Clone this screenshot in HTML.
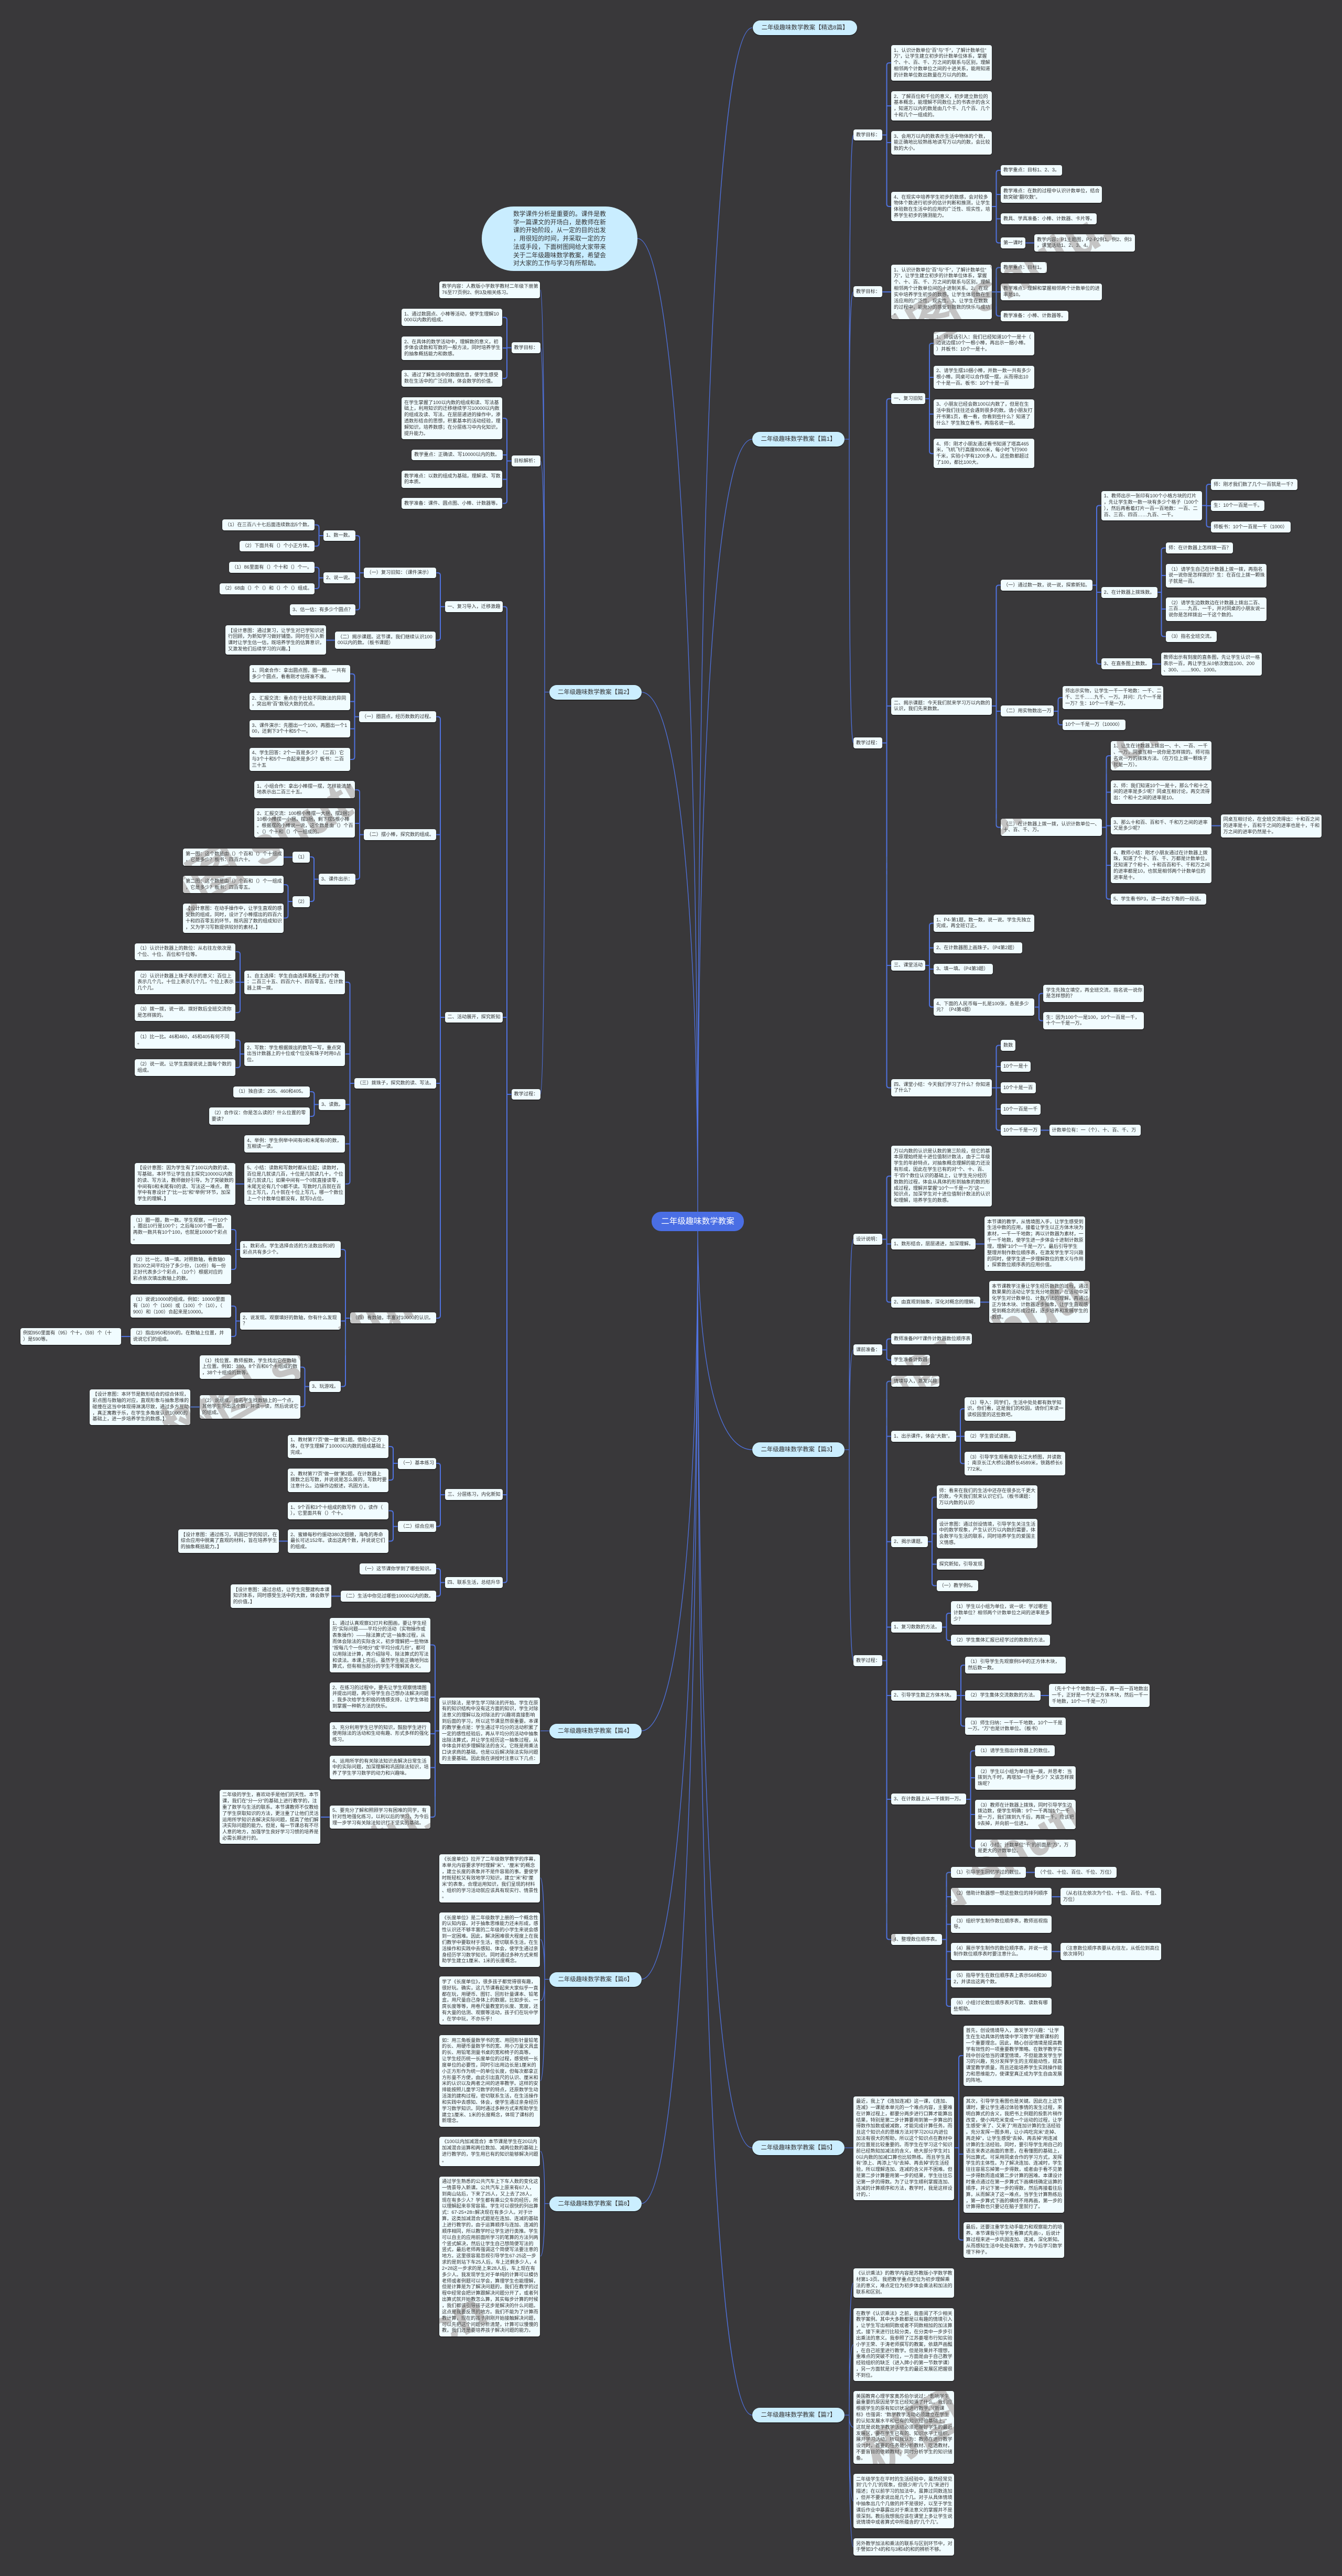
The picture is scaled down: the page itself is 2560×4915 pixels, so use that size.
<!DOCTYPE html>
<html lang="zh"><head><meta charset="utf-8"><title>二年级趣味数学教案</title>
<style>
html,body{margin:0;padding:0;background:#39383a}
#m{position:relative;width:2560px;height:4915px;overflow:hidden;background:#39383a;font-family:"Liberation Sans","Noto Sans CJK SC",sans-serif}
svg{position:absolute;left:0;top:0}
p{position:absolute;margin:0;width:192px;box-sizing:border-box;padding:4.5px 5px;background:#f1fcff;border-radius:4px;box-shadow:0 0 1px #111,0 1px 1px #111;color:#333;font-size:9.2px;line-height:11.85px;white-space:nowrap}
p.t{width:176px;height:28px;padding:0;line-height:28px;text-align:center;font-size:11.4px;background:#cbeeff;border-radius:14px}
p.r{left:1243px;top:2312px;width:176px;height:37px;padding:0;line-height:37px;text-align:center;font-size:15.5px;color:#fff;background:#4a6ee4;border-radius:18px;box-shadow:none}
p.i{left:919px;top:394px;width:297px;height:123px;padding:7px 60px;font-size:11.8px;line-height:15.7px;background:#c9edff;border-radius:61px;box-shadow:none}
.w{position:absolute;font-size:100px;font-weight:bold;line-height:120px;color:#c4c4c4;mix-blend-mode:darken;white-space:nowrap;transform:translate(-50%,-50%) rotate(-30deg)}
</style></head><body><div id="m">
<svg width="2560" height="4915" fill="none" stroke="#4f72e0">
<path stroke-width="1.3" d="M1331 2330C1331 964 1365 53 1435 53M1331 2330C1331 1435 1365 838 1435 838M1331 2330C1331 2592 1365 2766 1435 2766M1331 2330C1331 3391 1365 4098 1435 4098M1331 2330C1331 3697 1365 4608 1435 4608M1331 2330C1331 1205 1286 455 1216 455M1331 2330C1331 1724 1293 1320.5 1223 1320.5M1331 2330C1331 2913 1293 3302.5 1223 3302.5M1331 2330C1331 3198 1293 3776.5 1223 3776.5M1331 2330C1331 3455 1293 4204.5 1223 4204.5
M1611 838H1620C1620 500 1622 257.5 1628 257.5M1620 838C1620 650 1622 557 1628 557M1620 838C1620 1200 1622 1417.5 1628 1417.5
M1611 2766H1620C1620 2500 1622 2364.5 1628 2364.5M1620 2766C1620 2650 1622 2575.5 1628 2575.5M1620 2766C1620 3000 1622 3168.5 1628 3168.5
M1611 4098H1628
M1611 4608H1620C1620 4450 1622 4356 1628 4356M1620 4608C1620 4530 1622 4473.5 1628 4473.5M1620 4608C1620 4620 1622 4631 1628 4631M1620 4608C1620 4700 1622 4772 1628 4772M1620 4608C1620 4750 1622 4859.5 1628 4859.5
M1047.5 1320.5H1039C1039 900 1037 553 1031 553M1039 1320.5C1039 950 1037 663.5 1031 663.5M1039 1320.5C1039 1050 1037 879.5 1031 879.5M1039 1320.5C1039 1750 1037 2088 1031 2088
M1047.5 3302.5H1031
M1048 3776.5H1039C1039 3680 1037 3583 1031 3583M1039 3776.5C1039 3740 1037 3700.5 1031 3700.5M1039 3776.5C1039 3800 1037 3817 1031 3817M1039 3776.5C1039 3880 1037 3970 1031 3970
M1048 4204.5H1039C1039 4150 1037 4104.8 1031 4104.8M1039 4204.5C1039 4250 1037 4304.6 1031 4304.6"/>
<path stroke-width="2" d="M1683 257.5H1691.5M1700 120H1696.5q-5 0-5 5V389q0 5 5 5H1700M1691.5 202H1700M1691.5 272H1700
M1892 394H1900.5M1909 325H1905.5q-5 0-5 5V458.5q0 5 5 5H1909M1900.5 371H1909M1900.5 417.5H1909M1956 463.5H1973M1683 557H1700
M1892 557H1909M1909 510.5H1905.5q-5 0-5 5V598q0 5 5 5H1909
M1683 1417.5H1691.5M1700 760.7H1696.5q-5 0-5 5V2070.5q0 5 5 5H1700M1691.5 1347H1700M1691.5 1842H1700
M1765 760.7H1773M1781 655H1778q-5 0-5 5V860.5q0 5 5 5H1781M1773 720H1781M1773 790H1781
M1892 1347H1900.5M1909 1116.5H1905.5q-5 0-5 5V1573.5q0 5 5 5H1909M1900.5 1357H1909
M2084 1116.5H2092M2100.6 964.5H2097q-5 0-5 5V1262q0 5 5 5H2100.6M2092 1130H2100.6
M2293 964.5H2301.5M2310 924H2306.5q-5 0-5 5V1000.5q0 5 5 5H2310M2301.5 965H2310
M2207 1130H2215.5M2224 1045.5H2220.5q-5 0-5 5V1209.5q0 5 5 5H2224M2215.5 1098H2224M2215.5 1162H2224
M2197.5 1267H2214.5M2010 1357H2018.5M2027 1331H2023.5q-5 0-5 5V1378q0 5 5 5H2027
M2102 1578.5H2110.5M2119 1442H2115.5q-5 0-5 5V1710.5q0 5 5 5H2119M2110.5 1511.5H2119M2110.5 1575.5H2119M2110.5 1651H2119M2311 1575.5H2328.5
M1765 1842H1773M1781 1761.5H1778q-5 0-5 5V1916.5q0 5 5 5H1781M1773 1808.5H1781M1773 1849H1781
M1974 1921.5H1982M1990.4 1895.5H1987q-5 0-5 5V1942.5q0 5 5 5H1990.4
M1892 2075.5H1909M1909 1994.5H1905.5q-5 0-5 5V2151.5q0 5 5 5H1909M1900.5 2035H1909M1900.5 2116H1909M1985 2156.5H2001.5
M1683 2364.5H1691.5M1700 2244H1696.5q-5 0-5 5V2479.5q0 5 5 5H1700M1691.5 2373.5H1700M1861 2373.5H1878M1870 2484.5H1887
M1683 2575.5H1691.5M1700 2554.5H1696.5q-5 0-5 5V2590q0 5 5 5H1700
M1683 3168.5H1691.5M1700 2635.5H1696.5q-5 0-5 5V3695.5q0 5 5 5H1700M1691.5 2740.5H1700M1691.5 2941.5H1700M1691.5 3104.5H1700M1691.5 3235H1700M1691.5 3433H1700
M1823.5 2740.5H1840M1840 2688H1837q-5 0-5 5V2787.5q0 5 5 5H1840
M1770 2941.5H1778M1786.5 2856.5H1783q-5 0-5 5V3020.5q0 5 5 5H1786.5M1778 2926.5H1786.5M1778 2984.5H1786.5
M1797 3104.5H1805.5M1814 3078H1810.5q-5 0-5 5V3125q0 5 5 5H1814
M1825 3235H1841M1841 3177H1838q-5 0-5 5V3288.5q0 5 5 5H1841M1985 3235H2001.4
M1843 3433H1851.5M1860 3340.5H1856.5q-5 0-5 5V3521q0 5 5 5H1860M1851.5 3392H1860M1851.5 3462H1860
M1797 3700.5H1805.5M1814 3572.5H1810.5q-5 0-5 5V3823q0 5 5 5H1814M1805.5 3619H1814M1805.5 3671.5H1814M1805.5 3723.5H1814M1805.5 3776H1814
M1957 3572.5H1974M2006.5 3619H2023M2006.5 3723.5H2023
M1821 4098H1829M1837.5 3922H1834q-5 0-5 5V4269q0 5 5 5H1837.5M1829 4110H1837.5
M975.5 663.5H967M959 605.5H962q5 0 5 5V717q0 5-5 5H959M967 664H959
M975.5 879.5H967M959 798H962q5 0 5 5V955.5q0 5-5 5H959M967 868H959M967 914.5H959
M975.5 2088H967M959 1157.5H962q5 0 5 5V3014.5q0 5-5 5H959M967 1941H959M967 2852H959
M848.5 1157.5H840M832 1093H835q5 0 5 5V1216.5q0 5-5 5H832
M694.4 1093H686M677.5 1022H681q5 0 5 5V1158.5q0 5-5 5H677.5M686 1102.5H677.5
M617 1022H608.5M600 1001.5H603.5q5 0 5 5V1037q0 5-5 5H600
M617 1102.5H608.5M600 1082.5H603.5q5 0 5 5V1118q0 5-5 5H600M639 1221.5H622.4
M848.5 1941H840M832 1367.5H835q5 0 5 5V2510q0 5-5 5H832M840 1592.5H832M840 2067H832
M685 1367.5H676.5M668 1285.7H671.5q5 0 5 5V1444q0 5-5 5H668M676.5 1338.5H668M676.5 1390.5H668
M694.4 1592.5H686M677.5 1507H681q5 0 5 5V1672.5q0 5-5 5H677.5M686 1571H677.5
M607.6 1677.5H599M591 1635H594q5 0 5 5V1715q0 5-5 5H591M558 1635.5H541
M558 1720H549.5M541 1688H544.5q5 0 5 5V1746.5q0 5-5 5H541
M676 2067H667.5M659 1874H662.5q5 0 5 5V2254q0 5-5 5H659M667.5 2011H659M667.5 2107.4H659M667.5 2182.5H659
M466 1874H449.6M449.6 1816H453q5 0 5 5V1927q0 5-5 5H449.6
M466 2011H458M449.6 1984.5H453q5 0 5 5V2032q0 5-5 5H449.6
M608 2107.4H599.5M591 2083H594.5q5 0 5 5V2125q0 5-5 5H591M466 2259H449.6
M667.7 2515H659M650.5 2384H654q5 0 5 5V2640.5q0 5-5 5H650.5M659 2520.5H650.5
M458 2384H450M441 2346H445q5 0 5 5V2417q0 5-5 5H441
M458 2520.5H450M441 2492H445q5 0 5 5V2545q0 5-5 5H441M248.7 2550H231.5
M590 2645.5H581.5M573 2608.5H576.5q5 0 5 5V2679q0 5-5 5H573M380.6 2684.5H363.4
M848.7 2852H840M832 2792H835q5 0 5 5V2907.5q0 5-5 5H832
M758.8 2792H750M741.6 2760H745q5 0 5 5V2819q0 5-5 5H741.6
M758.8 2912.5H750M741.6 2882.5H745q5 0 5 5V2935.5q0 5-5 5H741.6M549 2940.5H531.8
M848.5 3019.5H840M832 2993H835q5 0 5 5V3040.5q0 5-5 5H832M649.5 3045.5H632
M838 3302.5H830M821 3138.5H825q5 0 5 5V3462q0 5-5 5H821M830 3238H821M830 3308H821M830 3372.5H821M629 3467H612"/>
</svg>

<p class="r">二年级趣味数学教案</p>
<p class="i">数学课件分析是重要的。课件是教<br>学一篇课文的开场白，是教师在新<br>课的开始阶段，从一定的目的出发<br>，用很短的时间，并采取一定的方<br>法或手段，下面树图网给大家带来<br>关于二年级趣味数学教案，希望会<br>对大家的工作与学习有所帮助。</p>

<p class="t" style="left:1436px;top:39px;width:199px">二年级趣味数学教案【精选8篇】</p>
<p class="t" style="left:1435px;top:824px">二年级趣味数学教案【篇1】</p>
<p class="t" style="left:1047.5px;top:1307px">二年级趣味数学教案【篇2】</p>
<p class="t" style="left:1435px;top:2752px">二年级趣味数学教案【篇3】</p>
<p class="t" style="left:1047.5px;top:3288.5px">二年级趣味数学教案【篇4】</p>
<p class="t" style="left:1435px;top:4084px">二年级趣味数学教案【篇5】</p>
<p class="t" style="left:1048px;top:3763px">二年级趣味数学教案【篇6】</p>
<p class="t" style="left:1435px;top:4594px">二年级趣味数学教案【篇7】</p>
<p class="t" style="left:1048px;top:4191px">二年级趣味数学教案【篇8】</p>

<p style="left:1628px;top:247px;width:55px">教学目标：</p>
<p style="left:1700px;top:86px">1、认识计数单位“百”与“千”，了解计数单位“<br>万”，让学生建立初步的计数单位体系，掌握<br>个、十、百、千、万之间的联系与区别，理解<br>相邻两个计数单位之间的十进关系，能用知道<br>的计数单位数出数量在万以内的数。</p>
<p style="left:1700px;top:174px">2、了解百位和千位的意义，初步建立数位的<br>基本概念，能理解不同数位上的书表示的含义<br>，知道万以内的数是由几个千、几个百、几个<br>十和几个一组成的。</p>
<p style="left:1700px;top:250px">3、会用万以内的数表示生活中物体的个数，<br>能正确地比较熟练地读写万以内的数，会比较<br>数的大小。</p>
<p style="left:1700px;top:366px">4、在现实中培养学生初步的数感，会对较多<br>物体个数进行初步的估计判断和推测，让学生<br>体验数在生活中的应用的广泛性、现实性，培<br>养学生初步的猜测能力。</p>
<p style="left:1909px;top:314.5px;width:117px">教学重点：目标1、2、3。</p>
<p style="left:1909px;top:354.5px;width:193px">教学难点：在数的过程中认识计数单位，结合<br>数突破“翻坎数”。</p>
<p style="left:1909px;top:407px;width:183px">教具、学具准备：小棒、计数器、卡片等。</p>
<p style="left:1909px;top:453px;width:47px">第一课时</p>
<p style="left:1973px;top:447px">教学内容：P1主题图，P2-P2例1、例2、例3<br>，课堂活动1、2、3、4。</p>
<p style="left:1628px;top:546px;width:55px">教学目标：</p>
<p style="left:1700px;top:505px">1、认识计数单位“百”与“千”，了解计数单位“<br>万”，让学生建立初步的计数单位体系，掌握<br>个、十、百、千、万之间的联系与区别，理解<br>相邻两个计数单位间的十进制关系。2、在现<br>实中培养学生初步的数感，让学生体验数在生<br>活应用的广泛性、现实性。3、让学生在数数<br>的过程中，能充分的感受到数数的快乐与成功<br>。</p>
<p style="left:1909px;top:500px;width:88px">教学重点：目标1。</p>
<p style="left:1909px;top:540.5px;width:193px">教学难点：理解和掌握相邻两个计数单位的进<br>率是10。</p>
<p style="left:1909px;top:592.5px;width:129px">教学准备：小棒、计数器等。</p>
<p style="left:1628px;top:1407px;width:55px">教学过程：</p>
<p style="left:1700px;top:750px;width:65px">一、复习旧知</p>
<p style="left:1781px;top:633px">1、师谈话引入：我们已经知道10个一是十（<br>边说边摆10个一根小棒，再出示一捆小棒。<br>）并板书：10个一是十。</p>
<p style="left:1781px;top:697.7px">2、请学生摆10捆小棒，并数一数一共有多少<br>根小棒。同桌可以合作摆一摆，从而得出10<br>个十是一百。板书：10个十是一百</p>
<p style="left:1781px;top:761.6px">3、小朋友已经会数100以内数了，但是在生<br>活中我们往往还会遇到很多的数。请小朋友打<br>开书第1页，看一看，你看到些什么？知道了<br>什么？学生独立看书，再指名说一说。</p>
<p style="left:1781px;top:837px">4、师：刚才小朋友通过看书知道了塔高465<br>米，飞机飞行高度8000米，每小时飞行900<br>千米，实验小学有1200多人。这些数都超过<br>了100，都比100大。</p>
<p style="left:1700px;top:1331px">二、揭示课题：今天我们就来学习万以内数的<br>认识，我们先来数数。</p>
<p style="left:1909px;top:1106px;width:175px">（一）通过数一数，说一说，探索新知。</p>
<p style="left:2100.6px;top:936.6px">1、教师出示一张印有100个小格方块的灯片<br>，先让学生数一数一块有多少个格子（100个<br>），然后再看着灯片一百一百地数：一百、二<br>百、三百、四百……九百、一千。</p>
<p style="left:2310px;top:914px;width:165px">师：刚才我们数了几个一百就是一千？</p>
<p style="left:2310px;top:954.5px;width:102px">生：10个一百是一千。</p>
<p style="left:2310px;top:995px;width:152px">师板书：10个一百是一千（1000）</p>
<p style="left:2100.6px;top:1120px;width:107px">2、在计数器上拨珠数。</p>
<p style="left:2224px;top:1035px;width:128px">师：在计数器上怎样拨一百？</p>
<p style="left:2224px;top:1076px">（1）请学生自己在计数器上拨一拨，再指名<br>说一说你是怎样拨的？生：在百位上拨一颗珠<br>子就是一百。</p>
<p style="left:2224px;top:1140px">（2）请学生边数数边在计数器上拨出二百、<br>三百……九百、一千，并对同桌的小朋友说一<br>说你是怎样拨出一千这个数的。</p>
<p style="left:2224px;top:1204px;width:97px">（3）指名全班交流。</p>
<p style="left:2100.6px;top:1256.4px;width:97px">3、在直条图上数数。</p>
<p style="left:2214.5px;top:1244.5px">教师出示有刻度的直条图，先让学生认识一格<br>表示一百，再让学生从0依次数出100、200<br>、300、……900、1000。</p>
<p style="left:1909px;top:1346.4px;width:101px">（二）用实物数出一万</p>
<p style="left:2027px;top:1308.5px">师出示实物，让学生一千一千地数：一千、二<br>千、三千……九千、一万。并问：几个一千是<br>一万？生：10个一千是一万。</p>
<p style="left:2027px;top:1372.5px;width:120px">10个一千是一万（10000）</p>
<p style="left:1909px;top:1562px;width:193px">（三）在计数器上拨一拨，认识计数单位一、<br>十、百、千、万。</p>
<p style="left:2119px;top:1413.6px">1、让生在计数器上拨出一、十、一百、一千<br>、一万，同桌互相一说你是怎样拨的。师可指<br>名说一万的拨珠方法。（在万位上拨一颗珠子<br>就是一万）。</p>
<p style="left:2119px;top:1489px">2、师：我们知道10个一是十，那么个和十之<br>间的进率是多少呢？同桌互相讨论，再交流得<br>出：个和十之间的进率是10。</p>
<p style="left:2119px;top:1559px">3、那么十和百、百和千、千和万之间的进率<br>又是多少呢？</p>
<p style="left:2328.5px;top:1553.5px">同桌互相讨论，在全班交流得出：十和百之间<br>的进率是十，百和千之间的进率也是十，千和<br>万之间的进率仍然是十。</p>
<p style="left:2119px;top:1617px">4、教师小结：刚才小朋友通过在计数器上拨<br>珠，知道了个十、百、千、万都是计数单位，<br>还知道了个和十、十和百百和千、千和万之间<br>的进率都是10，也就是相邻两个计数单位的<br>进率是十。</p>
<p style="left:2119px;top:1705px;width:182px">5、学生看书P3，读一读右下角的一段话。</p>
<p style="left:1700px;top:1831.5px;width:65px">三、课堂活动</p>
<p style="left:1781px;top:1745px">1、P4-第1题，数一数，说一说。学生先独立<br>完成，再全班订正。</p>
<p style="left:1781px;top:1798px;width:169px">2、在计数器图上画珠子。（P4第2题）</p>
<p style="left:1781px;top:1838.5px;width:113px">3、填一填。（P4第3题）</p>
<p style="left:1781px;top:1905px">4、下面的人民币每一扎是100张，各是多少<br>元？（P4第4题）</p>
<p style="left:1990.4px;top:1879px">学生先独立填空，再全班交流，指名说一说你<br>是怎样想的？</p>
<p style="left:1990.4px;top:1931px">生：因为100个一是100，10个一百是一千，<br>十个一千是一万。</p>
<p style="left:1700px;top:2059px">四、课堂小结：今天我们学习了什么？你知道<br>了什么？</p>
<p style="left:1909px;top:1984px;width:28px">数数</p>
<p style="left:1909px;top:2024.5px;width:57px">10个一是十</p>
<p style="left:1909px;top:2065px;width:67px">10个十是一百</p>
<p style="left:1909px;top:2106px;width:76px">10个一百是一千</p>
<p style="left:1909px;top:2146px;width:76px">10个一千是一万</p>
<p style="left:2001.5px;top:2146px;width:174px">计数单位有：一（个）、十、百、千、万</p>

<p style="left:1628px;top:2354px;width:55px">设计说明：</p>
<p style="left:1700px;top:2186px">万以内数的认识是认数的第三阶段，但它的基<br>本原理始终是十进位值制计数法，由于二年级<br>学生的年龄特点，对抽象概念理解的能力还没<br>有形成，因此在学生已有的对“个、十、百、<br>千”四个数位认识的基础上，让学生充分经历<br>数数的过程，体会从具体的形到抽象的数的形<br>成过程，理解并掌握“10个一千是一万”这一<br>知识点，加深学生对十进位值制计数法的认识<br>和理解，培养学生的数感。</p>
<p style="left:1700px;top:2363px;width:161px">1、数形结合，层层递进，加深理解。</p>
<p style="left:1878px;top:2321px">本节课的教学，从情境图入手，让学生感受到<br>生活中数的应用，接着让学生以正方体木块为<br>素材，一千一千地数；再以计数器为素材，一<br>千一千地数，使学生进一步体会十进制计数原<br>理，理解“10个一千是一万”。最后引导学生<br>整理并制作数位顺序表，在激发学生学习兴趣<br>的同时，使学生进一步理解数位的意义与作用<br>，探索数位顺序表的应用价值。</p>
<p style="left:1700px;top:2474px;width:170px">2、由直观到抽象，深化对概念的理解。</p>
<p style="left:1887px;top:2444px">本节课教学注重让学生经历数数的过程，通过<br>数果果的活动让学生充分地数数，在活动中深<br>化学生对计数单位、计数方法的理解。再通过<br>正方体木块、计数器逐步抽象，让学生直观感<br>受到概念的形成过程，逐步培养和发展学生的<br>数感。</p>
<p style="left:1628px;top:2565px;width:55px">课前准备：</p>
<p style="left:1700px;top:2544px;width:154px">教师准备PPT课件计数器数位顺序表</p>
<p style="left:1700px;top:2584.5px;width:74px">学生准备计数器</p>
<p style="left:1628px;top:3158px;width:55px">教学过程：</p>
<p style="left:1700px;top:2625px;width:92px">情境导入，激发兴趣</p>
<p style="left:1700px;top:2730px;width:123.5px">1、出示课件，体会“大数”。</p>
<p style="left:1840px;top:2666px">（1）导入：同学们，生活中处处都有数学知<br>识，你们看，这是我们的校园，请你们来读一<br>读校园里的这些数吧。</p>
<p style="left:1840px;top:2730px;width:97.6px">（2）学生尝试读数。</p>
<p style="left:1840px;top:2770px">（3）引导学生观看南京长江大桥图，并读数<br>：南京长江大桥公路桥长4589米，铁路桥长6<br>772米。</p>
<p style="left:1700px;top:2931px;width:70px">2、揭示课题。</p>
<p style="left:1786.5px;top:2834px">师：看来在我们的生活中还存在很多比千更大<br>的数，今天我们就来认识它们。（板书课题：<br>万以内数的认识）</p>
<p style="left:1786.5px;top:2898px">设计意图：通过创设情境，引导学生关注生活<br>中的数学现象，产生认识万以内数的需要，体<br>会数学与生活的联系，同时培养学生的爱国主<br>义情感。</p>
<p style="left:1786.5px;top:2974px;width:91.5px">探究新知，引导发现</p>
<p style="left:1786.5px;top:3015px;width:79px">（一）教学例5。</p>
<p style="left:1700px;top:3094px;width:97px">1、复习数数的方法。</p>
<p style="left:1814px;top:3055.4px">（1）学生以小组为单位，说一说：学过哪些<br>计数单位？相邻两个计数单位之间的进率是多<br>少？</p>
<p style="left:1814px;top:3119px;width:189px">（2）学生集体汇报已经学过的数数的方法。</p>
<p style="left:1700px;top:3224.5px;width:125px">2、引导学生数正方体木块。</p>
<p style="left:1841px;top:3160.6px">（1）引导学生先观察例5中的正方体木块，<br>然后数一数。</p>
<p style="left:1841px;top:3224.5px;width:144px">（2）学生集体交流数数的方法。</p>
<p style="left:2001.4px;top:3212.6px">（先十个十个地数出一百，再一百一百地数出<br>一千，正好是一个大正方体木块，然后一千一<br>千地数，10个一千是一万）</p>
<p style="left:1841px;top:3277px">（3）师生归纳：一千一千地数，10个一千是<br>一万。“万”也是计数单位。（板书）</p>
<p style="left:1700px;top:3422.4px;width:143px">3、在计数器上从一千拨到一万。</p>
<p style="left:1860px;top:3330px;width:152px">（1）请学生指出计数器上的数位。</p>
<p style="left:1860px;top:3370px">（2）学生以小组为单位拨一拨，并思考：当<br>拨到九千时，再增加一千是多少？又该怎样拨<br>珠呢？</p>
<p style="left:1860px;top:3434px">（3）教师在计数器上拨珠，同时引导学生边<br>拨边数，使学生明确：9个一千再加1个一千<br>是一万，我们拨到九千后，再拨一千，应该把<br>9去掉，并向前一位进1。</p>
<p style="left:1860px;top:3510px">（4）小结：计数单位“千”的前面是“万”，万<br>是更大的计数单位。</p>
<p style="left:1700px;top:3690px;width:97px">4、整理数位顺序表。</p>
<p style="left:1814px;top:3562px;width:143px">（1）引导学生回忆学过的数位。</p>
<p style="left:1974px;top:3562px;width:156px">（个位、十位、百位、千位、万位）</p>
<p style="left:1814px;top:3602.4px">（2）借助计数器想一想这些数位的排列顺序<br>。</p>
<p style="left:2023px;top:3602.4px">（从右往左依次为个位、十位、百位、千位、<br>万位）</p>
<p style="left:1814px;top:3655px">（3）组织学生制作数位顺序表，教师巡视指<br>导。</p>
<p style="left:1814px;top:3707px">（4）展示学生制作的数位顺序表，并说一说<br>制作数位顺序表时要注意什么。</p>
<p style="left:2023px;top:3707px">（注意数位顺序表要从右往左，从低位到高位<br>依次排列）</p>
<p style="left:1814px;top:3759.6px">（5）指导学生在数位顺序表上表示568和30<br>2，并读出这两个数。</p>
<p style="left:1814px;top:3811.6px">（6）小组讨论数位顺序表对写数、读数有哪<br>些帮助。</p>

<p style="left:1628px;top:3999.5px">最近，我上了《连加连减》这一课，《连加、<br>连减》一课是本单元的一个难点内容，主要难<br>在计算过程上，都要分两步进行口算才能算出<br>结果，特别是第二步计算要用到第一步算出的<br>得数作加数或被减数，才能完成计算任务。而<br>且这个知识点的思维方法对学习20以内进位<br>加法有很大的帮助，所以这个知识点在教材中<br>的位置是比较重要的。而学生在学习这个知识<br>前已经熟知加减法的含义，绝大部分学生对1<br>0以内数的加减口算也比较熟练。而且学生具<br>有“添上、再添上”与“去掉、再去掉”的生活经<br>验，所以理解连加、连减的含义并不困难。但<br>是第二步计算要用第一步的结果，学生往往忘<br>记第一步的得数。为了让学生顺利掌握连加、<br>连减的计算顺序和方法，教学时，我是这样设<br>计的。：</p>
<p style="left:1837.5px;top:3864.7px">首先，创设情境导入，激发学习兴趣：“让学<br>生在生动具体的情境中学习数学”是新课标的<br>一个重要理念。因此，精心创设情境是提高教<br>学有效性的一项重要教学策略。在数学教学实<br>践中创设恰当的课堂情境，不但能激发学生学<br>习的兴趣，充分发挥学生的主观能动性，提高<br>课堂教学质量，而且还能培养学生实践操作能<br>力和思维能力，使课堂真正成为学生自由发展<br>的阵地。</p>
<p style="left:1837.5px;top:3999.5px">其次，引导学生看图也是关键。因此在上这节<br>课时，要让学生通过体验事情的发生过程，来<br>明白算式的含义，我把书上例题的投影片稍作<br>改变，使小鸡吃米变成一个运动的过程，让学<br>生感受“来了、又来了”用连加计算的生活经验<br>。充分发挥一图多用，让小鸡吃完米“走掉、<br>再走掉”，让学生感受“去掉、再去掉”用连减<br>计算的生活经验。同时，要引导学生用自己的<br>语言来表达画面的意思，在看懂图的基础上，<br>列出算式。可采用同桌合作的学习方式，发挥<br>学生的主体性。为了解决连加、连减时，学生<br>往往容易忘掉第一步得数，或者由于看不见第<br>一步得数而造成第二步计算的困难。本课设计<br>时重点通过在第一步算式下画横线确定运算的<br>顺序，并记下第一步的得数，然后再接着往后<br>算，从而解决了这一难点，当学生计算熟练后<br>，第一步算式下画的横线不用再画，第一步的<br>计算得数也只要记在脑子里就行了。</p>
<p style="left:1837.5px;top:4239.7px">最后，还要注重学生动手能力和观察能力的培<br>养。本节课我引导学生看算式先画○，后说计<br>算过程来进一步巩固连加、连减，深化新知。<br>从而感知生活中处处有数学，为今后学习数学<br>埋下种子。</p>
<p style="left:1628px;top:4327.7px">《认识乘法》的教学内容是苏教版小学数学教<br>材第1-3页。我把教学重点定位为初步理解乘<br>法的意义，难点定位为初步体会乘法和加法的<br>联系和区别。</p>
<p style="left:1628px;top:4404px">在教学《认识乘法》之前，我查阅了不少相关<br>教学案例。其中大多数都是以有趣的情境引入<br>，让学生写出相同数或者不同数相加的加法算<br>式，接下来进行比较分类，在分类中一步步引<br>出乘法的意义。我参照了江苏姜堰市行知实验<br>小学王荣、于涛老师撰写的教案，依葫芦画瓢<br>，在自己班里进行教学。但是效果并不理想，<br>重难点的突破不到位，一方面是由于自己教学<br>经验组织的缺乏（进入牌小的第一节数学课）<br>，另一方面就是对于学生的最近发展区把握很<br>不到位。</p>
<p style="left:1628px;top:4562px">美国教育心理学家奥苏伯尔说过：“影响学生<br>最重要的原因是学生已经知道了什么。我们应<br>根据学生的原有知识状况进行教学。”《新课<br>标》也强调：“数学教学活动必须建立在学生<br>的认知发展水平和已有的知识经验基础上。”<br>这就是说数学教学活动必须把握好学生的最近<br>发展区，要在学生已有的、知识水平上组织、<br>展开学习活动。所以我认为：教师在进行教学<br>设计时，首要的任务是分析教材、吃透教材，<br>不要盲目的依赖教材，同时分析学生的知识储<br>备。</p>
<p style="left:1628px;top:4720px">二年级学生在平时的生活经验中，虽然经常见<br>到“几个几”的现象，但很少用“几个几”来进行<br>描述；在以前学习的加法中，虽算过同数连加<br>，但并不要求说出是几个几。对于从具体情境<br>中抽象出几个几做的并不是很好，以至于学生<br>课后作业中暴露出对于乘法意义的掌握并不是<br>很深刻。教后我想我应该在课堂上多让学生说<br>说情境中或者算式中所蕴含的“几个几”。</p>
<p style="left:1628px;top:4843px">另外教学加法和乘法的联系与区别环节中，对<br>于譬如3个4的和与3和4的和的辨析不够。</p>

<p style="left:838px;top:536.6px">教学内容：人教版小学数学教材二年级下册第<br>76至77页例2、例3及相关练习。</p>
<p style="left:975.5px;top:653px;width:55.5px">教学目标：</p>
<p style="left:766px;top:589px">1、通过数圆点、小棒等活动，使学生理解10<br>000以内数的组成。</p>
<p style="left:766px;top:642px">2、在具体的数学活动中，理解数的意义，初<br>步体会读数和写数的一般方法，同时培养学生<br>的抽象概括能力和数感。</p>
<p style="left:766px;top:705.5px">3、通过了解生活中的数据信息，使学生感受<br>数在生活中的广泛应用，体会数学的价值。</p>
<p style="left:975.5px;top:869px;width:55.5px">目标解析：</p>
<p style="left:766px;top:758px">在学生掌握了100以内数的组成和读、写法基<br>础上，利用知识的迁移继续学习10000以内数<br>的组成及读、写法。在层层递进的操作中，渗<br>透数形结合的思想，积累基本的活动经验，理<br>解知识，培养数感；在分层练习中内化知识，<br>提升能力。</p>
<p style="left:785px;top:857.6px;width:174px">教学重点：正确读、写10000以内的数。</p>
<p style="left:766px;top:898px">教学难点：以数的组成为基础，理解读、写数<br>的本质。</p>
<p style="left:766px;top:950px">教学准备：课件、圆点图、小棒、计数器等。</p>
<p style="left:975.5px;top:2077.6px;width:55.5px">教学过程：</p>
<p style="left:848.5px;top:1147px;width:110.5px">一、复习导入，迁移激趣</p>
<p style="left:694.4px;top:1082.6px;width:137.5px">（一）复习旧知：（课件演示）</p>
<p style="left:617px;top:1011.6px;width:60.5px">1、数一数。</p>
<p style="left:424px;top:991px;width:176px">（1）在三百八十七后面连续数出5个数。</p>
<p style="left:457px;top:1031.5px;width:143px">（2）下面共有（）个小正方体。</p>
<p style="left:617px;top:1092px;width:60.5px">2、说一说。</p>
<p style="left:437px;top:1072px;width:163px">（1）86里面有（）个十和（）个一。</p>
<p style="left:419px;top:1112.7px;width:181px">（2）68由（）个（）和（）个（）组成。</p>
<p style="left:553px;top:1153px;width:124.5px">3、估一估：有多少个圆点？</p>
<p style="left:639px;top:1205px">（二）揭示课题。这节课，我们继续认识100<br>00以内的数。（板书课题）</p>
<p style="left:430px;top:1193px">【设计意图：通过复习，让学生对已学知识进<br>行回顾，为新知学习做好铺垫。同时在引入新<br>课时让学生估一估，既培养学生的估算意识，<br>又激发他们后续学习的兴趣。】</p>
<p style="left:848.5px;top:1930.6px;width:110.5px">二、活动展开，探究新知</p>
<p style="left:685px;top:1357px;width:147px">（一）圈圆点，经历数数的过程。</p>
<p style="left:475.5px;top:1269.4px">1、同桌合作：拿出圆点图，圈一圈，一共有<br>多少个圆点，看看刚才估得准不准。</p>
<p style="left:475.5px;top:1322px">2、汇报交流：重点在于比较不同数法的异同<br>，突出用“百”数较大数的优点。</p>
<p style="left:475.5px;top:1374px">3、课件演示：先圈出一个100，再圈出一个1<br>00，还剩下3个十和5个一。</p>
<p style="left:475.5px;top:1426.5px">4、学生回答：2个一百是多少？（二百）它<br>与3个十和5个一合起来是多少？板书：二百<br>三十五</p>
<p style="left:694.4px;top:1582px;width:137.5px">（二）摆小棒，探究数的组成。</p>
<p style="left:485px;top:1490px">1、小组合作：拿出小棒摆一摆，怎样能清楚<br>地表示出二百三十五。</p>
<p style="left:485px;top:1542px">2、汇报交流：100根小棒摆一大捆，摆2捆；<br>10根小棒摆一小捆，摆3捆，剩下摆5根小棒<br>。根据摆的小棒说一说，这个数是由（）个百<br>、（）个十和（）个一组成的。</p>
<p style="left:607.6px;top:1667px;width:70px">3、课件出示：</p>
<p style="left:558px;top:1625px;width:33px">（1）</p>
<p style="left:558px;top:1710px;width:33px">（2）</p>
<p style="left:349px;top:1619px">第一图：这个数是由（）个百和（）个十组成<br>，它是多少？板书：四百六十。</p>
<p style="left:349px;top:1671.4px">第二图：这个数是由（）个百和（）个一组成<br>，它是多少？板书：四百零五。</p>
<p style="left:349px;top:1723.5px">【设计意图：在动手操作中，让学生直观的感<br>受数的组成，同时，设计了小棒摆出的四百六<br>十和四百零五的环节，既巩固了数的组成知识<br>，又为学习写数提供较好的素材。】</p>
<p style="left:676px;top:2056.5px;width:155.6px">（三）拨珠子，探究数的读、写法。</p>
<p style="left:466px;top:1852px">1、自主选择：学生自由选择黑板上的3个数<br>：二百三十五、四百六十、四百零五，在计数<br>器上拨一拨。</p>
<p style="left:257px;top:1799.5px">（1）认识计数器上的数位：从右往左依次是<br>个位、十位、百位和千位等。</p>
<p style="left:257px;top:1852px">（2）认识计数器上珠子表示的意义：百位上<br>表示几个几，十位上表示几个几，个位上表示<br>几个几。</p>
<p style="left:257px;top:1915.5px">（3）拨一拨，说一说。拨好数后全班交流你<br>是怎样拨的。</p>
<p style="left:466px;top:1989px">2、写数：学生根据拨出的数写一写，重点突<br>出当计数器上的十位或个位没有珠子时用0占<br>位。</p>
<p style="left:257px;top:1968px">（1）比一比。46和460，45和405有何不同<br>。</p>
<p style="left:257px;top:2020.7px">（2）说一说。让学生直接说说上面每个数的<br>组成。</p>
<p style="left:608px;top:2097px;width:51px">3、读数。</p>
<p style="left:445px;top:2072.7px;width:146px">（1）独自读：235、460和405。</p>
<p style="left:398.6px;top:2113.4px">（2）合作议：你是怎么读的？什么位置的零<br>要读？</p>
<p style="left:466px;top:2166px">4、举例：学生例举中间有0和末尾有0的数，<br>互相读一读。</p>
<p style="left:466px;top:2218.5px">5、小结：读数和写数时都从位起；读数时，<br>百位是几就读几百，十位是几就读几十，个位<br>是几就读几；如果中间有一个0就直接读零，<br>末尾无论有几个0都不读。写数时几百就在百<br>位上写几，几十就在十位上写几，哪一个数位<br>上一个计数单位都没有，就写0占位。</p>
<p style="left:257px;top:2218.5px">【设计意图：因为学生有了100以内数的读、<br>写基础，本环节让学生自主探究10000以内数<br>的读、写方法，教师做好引导。为了突破数的<br>中间有0和末尾有0的读、写法这一难点，教<br>学中有意设计了“比一比”和“举例”环节，加深<br>学生的理解。】</p>
<p style="left:667.7px;top:2504px;width:164px">（四）看数轴，丰富对10000的认识。</p>
<p style="left:458px;top:2367.6px">1、数彩点。学生选择合适的方法数出例3的<br>彩点共有多少个。</p>
<p style="left:248.7px;top:2318px">（1）圈一圈，数一数。学生观察，一行10个<br>，圈出10行是100个；之后每100个圈一圈，<br>再数一数共有10个100，也就是10000个彩点<br>。</p>
<p style="left:248.7px;top:2393.6px">（2）比一比，填一填。对照数轴，看数轴0<br>到100之间平均分了多少份，（10份）每一份<br>正好代表多少个彩点，（10个）根据对应的<br>彩点依次填出数轴上的数。</p>
<p style="left:458px;top:2504px">2、说发现。观察填好的数轴，你有什么发现<br>？</p>
<p style="left:248.7px;top:2469.5px">（1）说说10000的组成。例如：10000里面<br>有（10）个（100）或（100）个（10），（<br>900）和（100）合起来是10000。</p>
<p style="left:248.7px;top:2533.5px">（2）指出950和590的。在数轴上位置，并<br>说说它们的组成。</p>
<p style="left:39px;top:2533.5px">例如950里面有（95）个十，（59）个（十<br>）是590等。</p>
<p style="left:590px;top:2635px;width:60.4px">3、玩游戏。</p>
<p style="left:380.6px;top:2586px">（1）找位置。教师报数，学生找出它在数轴<br>上位置。例如：380，8个百和6个十组成的数<br>，38个十组成的数等。</p>
<p style="left:380.6px;top:2662px">（2）说组成。指名学生找数轴上的一个点，<br>其他学生写出这个数，并读一读，然后说说它<br>的组成。</p>
<p style="left:171.4px;top:2650.5px">【设计意图：本环节是数形结合的综合体现，<br>彩点图与数轴的对应，直观形象与抽象思维的<br>碰撞在这当中体现得淋漓尽致，通过多方互动<br>，真正寓教于乐，在学生多角度认识10000的<br>基础上，进一步培养学生的数感。】</p>
<p style="left:848.7px;top:2841.3px;width:110.3px">三、分层练习，内化新知</p>
<p style="left:758.8px;top:2781.7px;width:73px">（一）基本练习</p>
<p style="left:549px;top:2737.8px">1、教材第77页“做一做”第1题。借助小正方<br>体，在学生理解了10000以内数的组成基础上<br>完成。</p>
<p style="left:549px;top:2802px">2、教材第77页“做一做”第2题。在计数器上<br>拨数之后写数，并说说是怎么拨的，写数时要<br>注意什么。边操作边叙述，巩固方法。</p>
<p style="left:758.8px;top:2902px;width:73px">（二）综合应用</p>
<p style="left:549px;top:2866px">1、9个百和3个十组成的数写作（），读作（<br>），它里面共有（）个十。</p>
<p style="left:549px;top:2918px">2、蜜蜂每秒约振动380次翅膀，海龟的寿命<br>最长可达152年。读出这两个数，并说说它们<br>的组成。</p>
<p style="left:339.8px;top:2918px">【设计意图：通过练习，巩固已学的知识，在<br>综合应用中脱离了直观的材料，旨在培养学生<br>的抽象概括能力。】</p>
<p style="left:848.5px;top:3009px;width:110.5px">四、联系生活，总结升华</p>
<p style="left:685.5px;top:2983px;width:146.5px">（一）这节课你学到了哪些知识。</p>
<p style="left:649.5px;top:3035px;width:182.5px">（二）生活中你见过哪些10000以内的数。</p>
<p style="left:439.7px;top:3023px">【设计意图：通过总结，让学生完整建构本课<br>知识体系，同时感受生活中的大数，体会数学<br>的价值。】</p>

<p style="left:838px;top:3239px">认识除法，是学生学习除法的开始。学生在原<br>有的知识结构中没有这方面的知识，学生对除<br>法意义的理解以及对除法的“兴趣将直接影响<br>到后面的学习，所以这节课显然很重要。本课<br>的教学重点是：学生通过平均分的活动积累了<br>一定的感性经验后，再从平均分的活动中抽象<br>出除法算式，并让学生经历这一抽象过程，从<br>中体会并初步理解除法的含义。它既是用乘法<br>口诀求商的基础，也是以后解决除法实际问题<br>的主要基础。因此我在讲授时注意以下几点：</p>
<p style="left:629px;top:3087px">1、通过认真观察幻灯片和图画，要让学生经<br>历“实际问题——平均分的活动（实物操作或<br>表象操作）——除法算式”这一抽象过程，从<br>而体会除法的实际含义，初步理解把一些物体<br>“按每几个一份地分”或“平均分成几份”，都可<br>以用除法计算，再介绍除号、除法算式的写法<br>和读法。本课上完后，虽然学生能正确地列出<br>算式，但有相当部分的学生不理解其含义。</p>
<p style="left:629px;top:3210px">2、在练习的过程中，要先让学生观察情境图<br>并提出问题，再引导学生自己想办法解决问题<br>。我多次给学生积极的情感支持，让学生体验<br>到掌握一种新方法的快乐。</p>
<p style="left:629px;top:3286px">3、充分利用学生已学的知识，鼓励学生进行<br>使用除法的活动和生动有趣、形式多样的强化<br>练习。</p>
<p style="left:629px;top:3350px">4、运用所学的有关除法知识去解决日常生活<br>中的实际问题，加深理解和巩固除法知识，培<br>养了学生学习数学的动力和兴趣味。</p>
<p style="left:629px;top:3444.5px">5、要充分了解和照顾学习有困难的同学，有<br>针对性地强化练习，以利以后的学习，为今后<br>理一步学习有关除法知识打下坚实的基础。</p>
<p style="left:419px;top:3414.7px">二年级的学生，喜欢动手是他们的天性。本节<br>课，我们在“分一分”的基础上进行教学的，注<br>重了数学与生活的联系。本节课教师不仅教给<br>了学生获取知识的方法，更注重了让他们灵活<br>运用所学知识去解决实际问题，提高了他们解<br>决实际问题的能力。但是，每一节课总有不尽<br>人意的地方，加强学生良好学习习惯的培养是<br>必需长期进行的。</p>
<p style="left:838px;top:3537.8px">《长度单位》拉开了二年级数学教学的序幕，<br>本单元内容要求学时理解“米”、“厘米”的概念<br>，建立长度的表象并不是件容易的事。要使学<br>时既轻松又有效地学习知识，建立“米”和“厘<br>米”的表象，合理运用知识，我们呈现的材料<br>、组织的学习活动就应该具有现实行、情景性<br>。</p>
<p style="left:838px;top:3649px">《长度单位》是二年级数学上册的一个概念性<br>的认知内容。对于抽象思维能力还未形成，感<br>性认识还不够丰富的二年级的小学生来说会感<br>到一定困难。因此，解决困难很大程度上在我<br>们教学中要取材于生活，密切联系生活，在生<br>活操作和实践中去感知、体会，使学生通过亲<br>身经历学习数学知识。同时通过多种方式来帮<br>助学生建立1厘米、1米的长度概念。</p>
<p style="left:838px;top:3771.4px">学了《长度单位》，很多孩子都觉得很有趣，<br>很好玩。确实，这几节课看起来大家似乎一直<br>都在玩，用硬币、图钉、回形针量课本、铅笔<br>盒，用尺量自己身体上的数据，比如步长、一<br>庹长度等等，用卷尺量教室的长度、宽度，还<br>有大量的估测、观察等活动，孩子们在玩中学<br>，在学中玩，不亦乐乎！</p>
<p style="left:838px;top:3883px">如：用三角板量数学书的宽、用回形针量铅笔<br>的长、用硬币量数学书的宽、用小刀量文具盒<br>的长、用铅笔测量书桌的宽和椅子的高等。<br>让学生经历统一长度单位的过程，感受统一长<br>度单位的必要性，同时引出用边长是1厘米的<br>小正方形作为统一的单位长度，但每次都拿正<br>方形量不方便，由此引出直尺的认识、厘米和<br>米的认识以及两者之间的进率教学。这样的安<br>排能按照儿童学习数学的特点，还原数学生动<br>活泼的建构过程，密切联系生活，在生活操作<br>和实践中去感知、体会，使学生通过亲身经历<br>学习数学知识。同时通过多种方式来帮助学生<br>建立1厘米、1米的长度概念，体现了课标的<br>新理念。</p>
<p style="left:838px;top:4076.5px">《100以内加减混合》本节课是学生在20以内<br>加减混合运算和两位数加、减两位数的基础上<br>进行教学的，学生用已有的知识能够解决问题<br>。</p>
<p style="left:838px;top:4152.6px">通过学生熟悉的公共汽车上下车人数的变化这<br>一情景导入新课。公共汽车上原来有67人，<br>到南山站后，下来了25人，又上去了28人，<br>现在有多少人？学生都有乘公交车的经历，所<br>以理解起来非常容易。学生可以很快的列出算<br>式：67-25+28=解决现在有多少人。对于计<br>算，这类加减混合式题是在连加、连减的基础<br>上进行教学的，由于运算顺序与连加、连减的<br>顺序相同，所以教学时让学生进行类推。学生<br>可以自主的应用前面所学习的笔算的方法列两<br>个竖式解决，然后让学生自己想简便写法的<br>竖式，最后老师再强调这个简便写法要注意的<br>地方。这里很容易忽视引导学生67-25这一步<br>求的是到站下车25人后，车上还剩多少人，4<br>2+28这一步求的是上来28人后，车上现在有<br>多少人。我发现学生对于单纯的计算可以模仿<br>老师或者例题可以学会，算理学生也能理解，<br>但是计算是为了解决问题的，我们在教学的过<br>程中经常会把计算跟解决问题分开了，或者列<br>出算式就开始教怎么算，其实每步计算的时候<br>，我们都该引导孩子这步是解决的什么问题。<br>这点是我要反思的地方。我们不能为了计算而<br>教计算，现在的孩子刚刚开始接触解决问题，<br>可以先把这个问题分析清楚，计算可以慢慢的<br>教，我们还是要培养孩子解决问题的能力。</p>

<div class="w" style="left:1935px;top:525px">树图 shutu.cn</div>
<div class="w" style="left:1950px;top:1530px">树图 shutu.cn</div>
<div class="w" style="left:1935px;top:2530px">树图 shutu.cn</div>
<div class="w" style="left:1935px;top:3530px">树图 shutu.cn</div>
<div class="w" style="left:1935px;top:4530px">树图 shutu.cn</div>
<div class="w" style="left:560px;top:1580px">树图 shutu.cn</div>
<div class="w" style="left:600px;top:2580px">树图 shutu.cn</div>
<div class="w" style="left:640px;top:3560px">树图 shutu.cn</div>
<div class="w" style="left:640px;top:4560px">树图 shutu.cn</div>
</div></body></html>
